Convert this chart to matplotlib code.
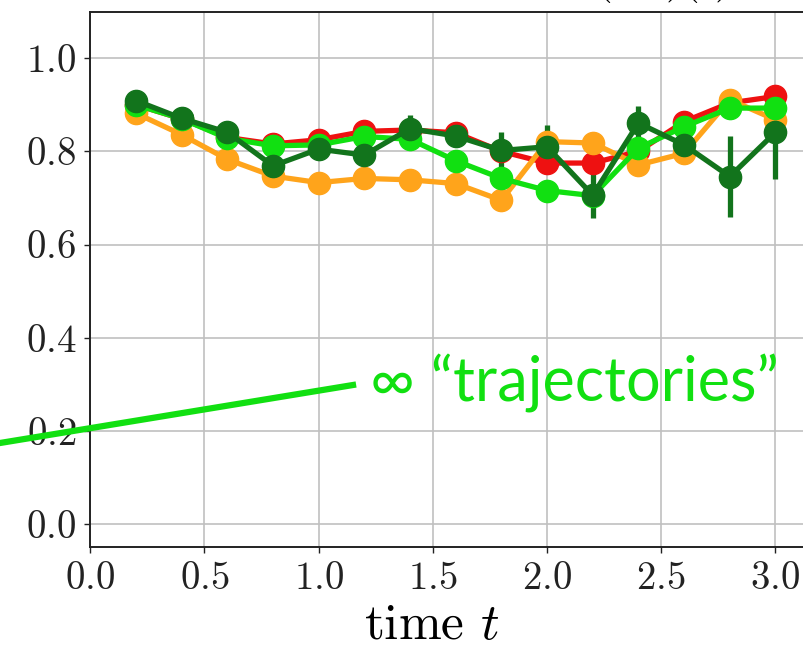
import matplotlib
matplotlib.use("Agg")
import matplotlib.pyplot as plt
import numpy as np

plt.rcParams["font.family"] = "serif"
plt.rcParams["font.serif"] = ["cmr10"]
plt.rcParams["mathtext.fontset"] = "cm"
plt.rcParams["axes.unicode_minus"] = False

# time grid
t = [0.2, 0.4, 0.6, 0.8, 1.0, 1.2, 1.4, 1.6, 1.8, 2.0, 2.2, 2.4, 2.6, 2.8, 3.0]

# estimated probabilities for each run
red_vals = [0.90, 0.87, 0.83, 0.816, 0.825, 0.843, 0.846, 0.84, 0.80, 0.775, 0.775, 0.80, 0.864, 0.904, 0.918]
orange_vals = [0.882, 0.836, 0.783, 0.747, 0.733, 0.742, 0.739, 0.731, 0.695, 0.821, 0.818, 0.771, 0.796, 0.911, 0.868]
lime_vals = [0.90, 0.87, 0.828, 0.812, 0.814, 0.832, 0.826, 0.78, 0.742, 0.716, 0.705, 0.807, 0.853, 0.893, 0.893]
dgreen_vals = [0.909, 0.871, 0.841, 0.769, 0.805, 0.792, 0.849, 0.833, 0.802, 0.81, 0.706, 0.861, 0.814, 0.746, 0.841]

red_err = [0.005, 0.005, 0.005, 0.005, 0.005, 0.008, 0.01, 0.01, 0.01, 0.01, 0.012, 0.012, 0.012, 0.015, 0.02]
orange_err = [0.005, 0.005, 0.005, 0.005, 0.005, 0.006, 0.008, 0.008, 0.01, 0.01, 0.01, 0.012, 0.012, 0.015, 0.02]
lime_err = [0.005, 0.005, 0.005, 0.005, 0.005, 0.006, 0.008, 0.008, 0.01, 0.01, 0.012, 0.012, 0.012, 0.015, 0.02]
dgreen_err = [0.01, 0.01, 0.01, 0.01, 0.01, 0.015, 0.03, 0.02, 0.04, 0.047, 0.048, 0.036, 0.04, 0.087, 0.1]

x_ticks = [0.0, 0.5, 1.0, 1.5, 2.0, 2.5, 3.0]
y_ticks = [0.0, 0.2, 0.4, 0.6, 0.8, 1.0]

series = [
    (red_vals, red_err, "#ee1111"),
    (orange_vals, orange_err, "#ffa41b"),
    (lime_vals, lime_err, "#11e011"),
    (dgreen_vals, dgreen_err, "#12741c"),
]

fig = plt.figure(figsize=(8.04, 6.49), dpi=100)
ax = fig.add_axes([0.1123, 0.1567, 0.909, 0.8253])

for vals, err, col in series:
    ax.errorbar(t, vals, yerr=err, color=col, marker="o", markersize=16,
                linewidth=3.8, elinewidth=3.8, capsize=0, zorder=3)

ax.set_xlim(0.0, 3.2)
ax.set_ylim(-0.05, 1.1)
ax.set_xticks(x_ticks)
ax.set_yticks(y_ticks)
ax.set_xticklabels([f"${v:.1f}$" for v in x_ticks])
ax.set_yticklabels([f"${v:.1f}$" for v in y_ticks])
ax.tick_params(axis="both", labelsize=28, direction="out", length=4, width=1.0,
               colors="#222222", pad=6)
ax.grid(True, color="#c0c0c0", linewidth=1.2)
ax.set_axisbelow(True)
for s in ax.spines.values():
    s.set_linewidth(1.4)
    s.set_color("#222222")

ax.set_xlabel(r"time $t$", fontsize=37)
ax.xaxis.set_label_coords(0.468, -0.105)

# title sitting above the figure edge
fig.text(0.565, 1.012, r"Proportion of time in $(X_2)(t)$", fontsize=31,
         ha="center", va="baseline")

# highlighted annotation
fig.add_artist(plt.Line2D([0.0, 353 / 804], [1 - 443 / 649, 1 - 385 / 649],
                          color="#11e011", linewidth=4.5, transform=fig.transFigure))
fig.text(370 / 804, 1 - 383 / 649, "\u221e \u201ctrajectories\u201d", color="#11e011",
         fontsize=44, family=["Lato", "DejaVu Sans"], ha="left", va="center")

fig.savefig("out.png", dpi=100)
